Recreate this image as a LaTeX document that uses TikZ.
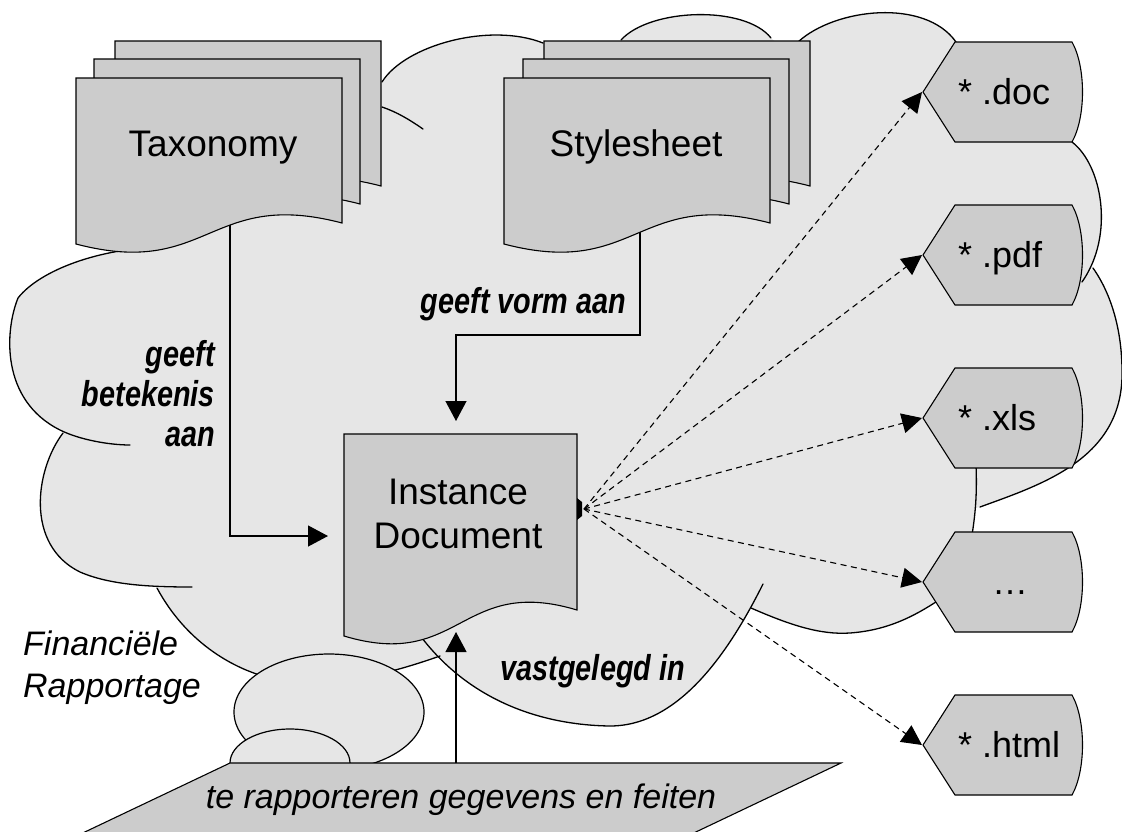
\documentclass[tikz,border=0pt]{standalone}
\usepackage{fontspec}
\setmainfont{Liberation Sans}
\newfontfamily\condfont{Liberation Sans}[FakeStretch=0.8]
\usetikzlibrary{arrows.meta}
\definecolor{cloudgray}{HTML}{E6E6E6}
\definecolor{docgray}{HTML}{CCCCCC}
\tikzset{
  docst/.style={fill=docgray, draw=black, line width=1.1pt, line join=miter},
  ellst/.style={fill=cloudgray, draw=black, line width=1.2pt},
  cloudline/.style={draw=black, line width=1.3pt, line cap=round},
  conn/.style={draw=black, line width=1.2pt, -{Triangle[length=20pt,width=21pt]}},
  dconn/.style={draw=black, line width=1.1pt, dash pattern=on 6pt off 4.5pt, -{Triangle[length=20pt,width=20pt]}},
  maintext/.style={font=\fontsize{37}{44}\selectfont, inner sep=0pt},
  hextext/.style={font=\fontsize{36}{42}\selectfont, inner sep=0pt},
  labeltext/.style={font=\condfont\bfseries\itshape\fontsize{36}{40}\selectfont, inner sep=0pt},
  itext/.style={font=\itshape\fontsize{34}{40}\selectfont, inner sep=0pt},
}
\newcommand{\docshape}[5]{\filldraw[docst] (#1,#2) -- (#1+#3,#2) -- (#1+#3,#2+#5) .. controls +(-#3/2,-35) and +(#3/2,35) .. (#1,#2+#4) -- cycle;}
\newcommand{\hexshape}[1]{\filldraw[docst] (923,#1) -- (955,#1-50) -- (1072,#1-50) .. controls (1086,#1-25) and (1086,#1+25) .. (1072,#1+50) -- (955,#1+50) -- cycle;}
\begin{document}
\begin{tikzpicture}[x=1pt,y=-1pt]
\useasboundingbox (0,0) rectangle (1122,831);
\fill[white] (0,0) rectangle (1122,831);

% cloud fill
\fill[cloudgray] (382,82) .. controls (405,45) and (490,22) .. (543,43)
 -- (560,52) -- (610,52) -- (621,40)
 .. controls (650,8) and (745,5) .. (771,38)
 -- (785,52) -- (800,45) -- (798,42)
 .. controls (835,8) and (925,-2) .. (956,42)
 -- (1010,92) -- (1072,142)
 .. controls (1102,165) and (1115,235) .. (1082,282)
 -- (1093,268) .. controls (1105,285) and (1123,320) .. (1122,377)
 .. controls (1120,460) and (1040,485) .. (980,507)
 -- (975,508) -- (972,535) -- (960,585)
 .. controls (920,615) and (890,630) .. (850,633)
 .. controls (820,635) and (790,625) .. (751,608)
 -- (763,584) .. controls (730,650) and (680,726) .. (610,726)
 .. controls (540,725) and (470,700) .. (422,638)
 -- (440,656) .. controls (400,670) and (330,692) .. (270,678)
 .. controls (230,668) and (185,640) .. (157,588)
 -- (192,587) .. controls (150,587) and (110,585) .. (80,572)
 .. controls (25,545) and (35,470) .. (63,433)
 -- (130,445) .. controls (110,445) and (80,440) .. (60,430)
 .. controls (0,400) and (5,330) .. (18,298)
 .. controls (40,270) and (100,248) .. (163,247)
 -- (163,240) -- (200,230) -- (260,205) -- (330,195) -- (375,150) -- cycle;

% cloud outlines
\draw[cloudline] (163,247) .. controls (100,248) and (40,270) .. (18,298) .. controls (5,330) and (0,400) .. (60,430) .. controls (80,440) and (110,445) .. (130,445);
\draw[cloudline] (63,433) .. controls (35,470) and (25,545) .. (80,572) .. controls (110,585) and (150,587) .. (192,587);
\draw[cloudline] (157,588) .. controls (185,640) and (230,668) .. (270,678) .. controls (330,692) and (400,670) .. (440,656);
\draw[cloudline] (422,638) .. controls (470,700) and (540,725) .. (610,726) .. controls (680,726) and (730,650) .. (763,584);
\draw[cloudline] (751,608) .. controls (790,625) and (820,635) .. (850,633) .. controls (890,630) and (920,615) .. (960,585);
\draw[cloudline] (972,535) .. controls (976,510) and (977,490) .. (976,465);
\draw[cloudline] (980,507) .. controls (1040,485) and (1120,460) .. (1122,377) .. controls (1123,320) and (1105,285) .. (1093,268);
\draw[cloudline] (1072,142) .. controls (1102,165) and (1115,235) .. (1082,282);
\draw[cloudline] (798,42) .. controls (835,8) and (925,-2) .. (956,42);
\draw[cloudline] (621,40) .. controls (650,8) and (745,5) .. (771,38);
\draw[cloudline] (382,82) .. controls (405,45) and (490,22) .. (543,43);
\draw[cloudline] (382,107) .. controls (397,112) and (410,120) .. (423,129);

% small lobes and data parallelogram
\filldraw[ellst] (329,712) ellipse [x radius=95pt, y radius=58pt];
\filldraw[ellst] (290,763) ellipse [x radius=60pt, y radius=34pt];
\filldraw[docst] (230,763) -- (841,763) -- (679,840) -- (68,840) -- cycle;
\node[itext, anchor=base] (data) at (461,808) {te rapporteren gegevens en feiten};

% connector anchors
\coordinate (taxbot) at (230,215);
\coordinate (instW) at (328,536);
\coordinate (stybot) at (640,215);
\coordinate (vbend) at (456,335);
\coordinate (instN) at (456,421);
\coordinate (partop) at (456,763);
\coordinate (instS) at (456,632);
\coordinate (src) at (584,509);
\coordinate (tdoc) at (922,92);
\coordinate (tpdf) at (922,255);
\coordinate (txls) at (922,418);
\coordinate (tdots) at (922,582);
\coordinate (thtml) at (922,745);

\draw[conn] (taxbot) |- (instW);
\draw[conn] (stybot) |- (vbend) -- (instN);
\draw[conn] (partop) -- (instS);

% documents
\docshape{115}{41}{266}{166}{145}
\docshape{94}{59}{266}{166}{145}
\docshape{76}{78}{266}{166}{145}
\node[maintext, anchor=base] (tax) at (213,156) {Taxonomy};

\docshape{544}{41}{266}{166}{145}
\docshape{523}{59}{266}{166}{145}
\docshape{504}{78}{266}{166}{145}
\node[maintext, anchor=base] (sty) at (636,156) {Stylesheet};

\docshape{344}{434}{233}{202}{176}
\node[maintext, anchor=base] (inst1) at (458,504) {Instance};
\node[maintext, anchor=base] (inst2) at (458,548) {Document};
\fill[black] (577,498) -- (582,502) -- (582,516) -- (577,520) -- cycle;

% output formats
\hexshape{92}
\hexshape{255}
\hexshape{418}
\hexshape{582}
\hexshape{745}
\node[hextext, anchor=base west] (hdoc) at (958,104) {* .doc};
\node[hextext, anchor=base west] (hpdf) at (958,267) {* .pdf};
\node[hextext, anchor=base west] (hxls) at (958,430) {* .xls};
\node[hextext, anchor=base] (hdots) at (1010,594) {…};
\node[hextext, anchor=base west] (hhtml) at (958,757) {* .html};

\draw[dconn] (src) -- (tdoc);
\draw[dconn] (src) -- (tpdf);
\draw[dconn] (src) -- (txls);
\draw[dconn] (src) -- (tdots);
\draw[dconn] (src) -- (thtml);

% labels
\node[labeltext, anchor=base east] (gv) at (626,313) {geeft vorm aan};
\node[labeltext, anchor=base east] (gb1) at (215,366) {geeft};
\node[labeltext, anchor=base east] (gb2) at (215,406) {betekenis};
\node[labeltext, anchor=base east] (gb3) at (215,446) {aan};
\node[labeltext, anchor=base east] (vi) at (685,680) {vastgelegd in};
\node[itext, anchor=base west] (fr1) at (23,655) {Financiële};
\node[itext, anchor=base west] (fr2) at (23,697) {Rapportage};
\end{tikzpicture}
\end{document}
